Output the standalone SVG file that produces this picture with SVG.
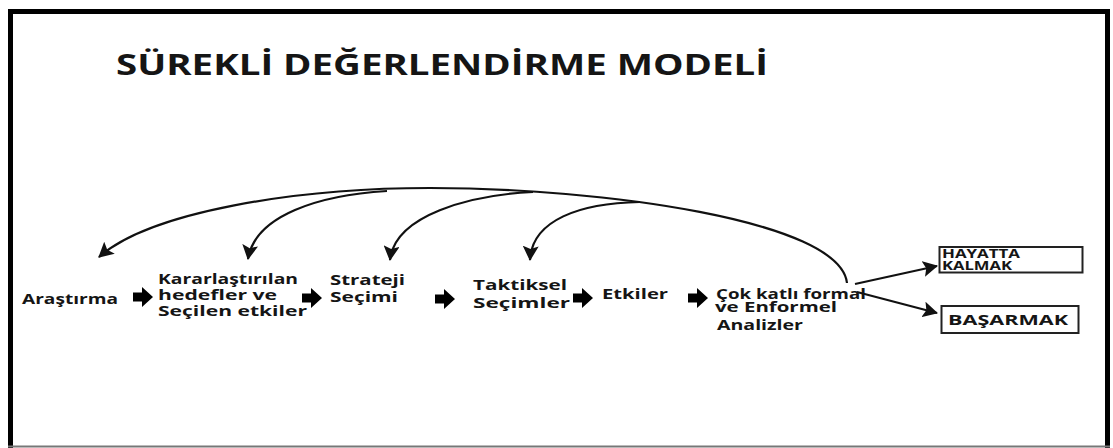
<svg xmlns="http://www.w3.org/2000/svg" width="1113" height="448" viewBox="0 0 1113 448">
  <style>
    .t { font-family: "Open Sans", "DejaVu Sans", sans-serif; font-weight: 700; fill: #151515; }
    .lbl { font-size: 15px; }
    .small { font-size: 12px; }
    .curve { fill: none; stroke: #111; stroke-width: 2.2; }
    .box { fill: #fff; stroke: #222; stroke-width: 2; }
    .block { fill: #000; }
  </style>
  <defs>
    <marker id="ah" markerUnits="userSpaceOnUse" markerWidth="18" markerHeight="16" refX="14" refY="8" orient="auto">
      <path d="M0,0 L15,8 L0,16 L3,8 Z" fill="#111"/>
    </marker>
    <path id="blk" d="M0,-4.5 H9 V-10 L20,0 L9,10 V4.5 H0 Z"/>
  </defs>

  <rect width="1113" height="448" fill="#fff"/>
  <g id="frame">
    <path d="M10.5,448 V11.5 H1107.5 V448" fill="none" stroke="#000" stroke-width="5"/>
    <line x1="8" y1="446.5" x2="1110" y2="446.5" stroke="#777" stroke-width="2"/>
  </g>

  <g id="title">
    <text class="t" x="116" y="75" font-size="28" textLength="652" lengthAdjust="spacingAndGlyphs">SÜREKLİ DEĞERLENDİRME MODELİ</text>
  </g>

  <g id="connectors">
    <path class="curve" d="M847,283 C840,220 600,188 430,188 C295,188 150,212 99,257" marker-end="url(#ah)"/>
    <path class="curve" d="M387,191 C320,195 255,215 248,259" marker-end="url(#ah)"/>
    <path class="curve" d="M533,192 C470,195 395,215 390,260" marker-end="url(#ah)"/>
    <path class="curve" d="M640,202 C580,203 532,220 530,260" marker-end="url(#ah)"/>
    <path class="curve" d="M855,284 L937,266" marker-end="url(#ah)"/>
    <path class="curve" d="M857,292 L937,313" marker-end="url(#ah)"/>
    <use href="#blk" class="block" x="133" y="297"/>
    <use href="#blk" class="block" x="302" y="298"/>
    <use href="#blk" class="block" x="435" y="299"/>
    <use href="#blk" class="block" x="573" y="298"/>
    <use href="#blk" class="block" x="688" y="298"/>
  </g>

  <g id="node-arastirma">
    <text class="t lbl" x="22" y="304" textLength="96" lengthAdjust="spacingAndGlyphs">Araştırma</text>
  </g>
  <g id="node-kararlastirilan">
    <text class="t lbl" x="158" y="284" textLength="140" lengthAdjust="spacingAndGlyphs">Kararlaştırılan</text>
    <text class="t lbl" x="158" y="300" textLength="119" lengthAdjust="spacingAndGlyphs">hedefler ve</text>
    <text class="t lbl" x="158" y="316" textLength="149" lengthAdjust="spacingAndGlyphs">Seçilen etkiler</text>
  </g>
  <g id="node-strateji">
    <text class="t lbl" x="330" y="285" textLength="75" lengthAdjust="spacingAndGlyphs">Strateji</text>
    <text class="t lbl" x="330" y="302" textLength="68" lengthAdjust="spacingAndGlyphs">Seçimi</text>
  </g>
  <g id="node-taktiksel">
    <text class="t lbl" x="473" y="290" textLength="94" lengthAdjust="spacingAndGlyphs">Taktiksel</text>
    <text class="t lbl" x="473" y="308" textLength="97" lengthAdjust="spacingAndGlyphs">Seçimler</text>
  </g>
  <g id="node-etkiler">
    <text class="t lbl" x="602" y="299" textLength="66" lengthAdjust="spacingAndGlyphs">Etkiler</text>
  </g>
  <g id="node-analizler">
    <text class="t lbl" x="716" y="299" textLength="150" lengthAdjust="spacingAndGlyphs">Çok katlı formal</text>
    <text class="t lbl" x="715" y="312" textLength="122" lengthAdjust="spacingAndGlyphs">ve Enformel</text>
    <text class="t lbl" x="717" y="330" textLength="86" lengthAdjust="spacingAndGlyphs">Analizler</text>
  </g>
  <g id="node-hayatta">
    <rect class="box" x="939.5" y="247" width="143" height="25.5"/>
    <text class="t small" x="942" y="257.5" textLength="78" lengthAdjust="spacingAndGlyphs">HAYATTA</text>
    <text class="t small" x="942" y="270" textLength="70" lengthAdjust="spacingAndGlyphs">KALMAK</text>
  </g>
  <g id="node-basarmak">
    <rect class="box" x="941.5" y="306" width="137" height="27"/>
    <text class="t lbl" x="948" y="325" textLength="120" lengthAdjust="spacingAndGlyphs">BAŞARMAK</text>
  </g>
</svg>
